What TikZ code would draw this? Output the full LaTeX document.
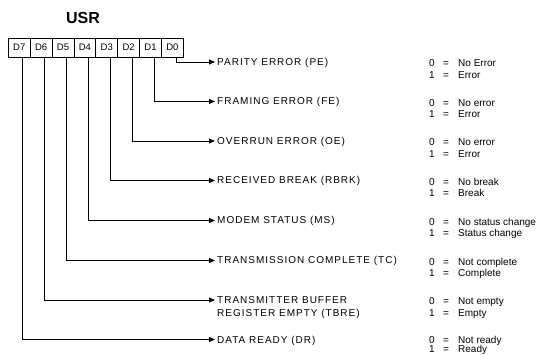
\documentclass[tikz,border=0pt]{standalone}
\usepackage{fontspec}
\setmainfont{Liberation Sans}
\newfontfamily\lblfont[LetterSpace=10]{Liberation Sans}
\usetikzlibrary{arrows.meta}
\newcommand\vr[2]{\makebox[14pt][l]{#1}\makebox[15pt][l]{=}#2}
\begin{document}
\begin{tikzpicture}[x=1pt,y=-1pt,
  cell/.style={draw,line width=0.8pt,minimum width=21.875pt,minimum height=19pt,inner sep=0pt,font=\fontsize{9.5}{11}\selectfont},
  lbl/.style={anchor=west,inner xsep=2pt,inner ysep=0pt,text height=7pt,text depth=0pt,font=\lblfont\fontsize{10}{12}\selectfont},
  val/.style={anchor=west,inner sep=0pt,text height=7pt,text depth=0pt,font=\fontsize{10}{12}\selectfont},
  conn/.style={line width=0.9pt,-{Triangle[length=6pt,width=5pt]}}]
\useasboundingbox (0,0) rectangle (538,355);
\node[font=\bfseries\fontsize{16}{19}\selectfont,inner sep=0pt] (title) at (83,18) {USR};
\foreach \i in {0,...,7}{
  \node[cell] (d\i) at ({8.3+21.875*(7-\i)+10.94},47.5) {D\i};
}
% labels
\node[lbl] (l0) at (215,62) {PARITY ERROR (PE)};
\node[lbl] (l1) at (215,101.5) {FRAMING ERROR (FE)};
\node[lbl] (l2) at (215,141) {OVERRUN ERROR (OE)};
\node[lbl] (l3) at (215,180.5) {RECEIVED BREAK (RBRK)};
\node[lbl] (l4) at (215,220.5) {MODEM STATUS (MS)};
\node[lbl] (l5) at (215,260.5) {TRANSMISSION COMPLETE (TC)};
\node[lbl] (l6) at (215,300) {TRANSMITTER BUFFER};
\node[lbl] (l6b) at (215,313) {REGISTER EMPTY (TBRE)};
\node[lbl] (l7) at (215,339.5) {DATA READY (DR)};
% connectors
\foreach \i in {0,...,7}{
  \draw[conn] ([xshift=3.6pt]d\i.south) |- (l\i.west);
}
% values
\node[val] (v0a) at (429,63.5) {\vr{0}{No Error}};
\node[val] (v0b) at (429,75) {\vr{1}{Error}};
\node[val] (v1a) at (429,103) {\vr{0}{No error}};
\node[val] (v1b) at (429,114.5) {\vr{1}{Error}};
\node[val] (v2a) at (429,142.5) {\vr{0}{No error}};
\node[val] (v2b) at (429,154) {\vr{1}{Error}};
\node[val] (v3a) at (429,182) {\vr{0}{No break}};
\node[val] (v3b) at (429,193.5) {\vr{1}{Break}};
\node[val] (v4a) at (429,222) {\vr{0}{No status change}};
\node[val] (v4b) at (429,233.5) {\vr{1}{Status change}};
\node[val] (v5a) at (429,262) {\vr{0}{Not complete}};
\node[val] (v5b) at (429,273.5) {\vr{1}{Complete}};
\node[val] (v6a) at (429,301.5) {\vr{0}{Not empty}};
\node[val] (v6b) at (429,313) {\vr{1}{Empty}};
\node[val] (v7a) at (429,339.5) {\vr{0}{Not ready}};
\node[val] (v7b) at (429,349) {\vr{1}{Ready}};
\end{tikzpicture}
\end{document}
